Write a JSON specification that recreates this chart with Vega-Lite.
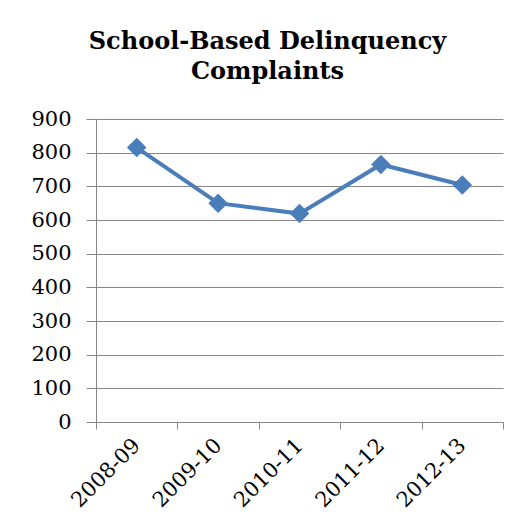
{
  "$schema": "https://vega.github.io/schema/vega-lite/v6.json",
  "autosize": "none",
  "width": 407,
  "height": 303,
  "padding": {"left": 96, "top": 119, "right": 25, "bottom": 105},
  "background": "white",
  "title": {
    "text": ["School-Based Delinquency", "Complaints"],
    "font": "DejaVu Serif",
    "fontSize": 24,
    "fontWeight": "bold",
    "color": "black",
    "anchor": "middle",
    "dx": -32,
    "lineHeight": 30,
    "baseline": "bottom",
    "offset": 0
  },
  "data": {
    "values": [
      {"period": "2008-09", "complaints": 815},
      {"period": "2009-10", "complaints": 650},
      {"period": "2010-11", "complaints": 619},
      {"period": "2011-12", "complaints": 765},
      {"period": "2012-13", "complaints": 704}
    ]
  },
  "encoding": {
    "x": {
      "field": "period",
      "type": "nominal",
      "sort": null,
      "scale": {"paddingInner": 0, "paddingOuter": 0},
      "axis": {
        "title": null,
        "labelAngle": -45,
        "labelAlign": "right",
        "labelBaseline": "middle",
        "tickBand": "extent",
        "tickSize": 7,
        "labelPadding": 13,
        "grid": false
      }
    },
    "y": {
      "field": "complaints",
      "type": "quantitative",
      "scale": {"domain": [0, 900], "nice": false},
      "axis": {
        "title": null,
        "values": [0, 100, 200, 300, 400, 500, 600, 700, 800, 900],
        "tickSize": 10,
        "labelPadding": 15,
        "grid": true
      }
    }
  },
  "layer": [
    {"mark": {"type": "line", "color": "#4A7EBB", "strokeWidth": 4}},
    {"mark": {"type": "point", "shape": "diamond", "filled": true, "color": "#4A7EBB", "size": 380, "opacity": 1}}
  ],
  "config": {
    "view": {"stroke": null},
    "axis": {
      "domainColor": "#868686",
      "tickColor": "#868686",
      "gridColor": "#868686",
      "gridOpacity": 1,
      "labelFont": "DejaVu Serif",
      "labelFontSize": 21,
      "labelColor": "black"
    }
  }
}
